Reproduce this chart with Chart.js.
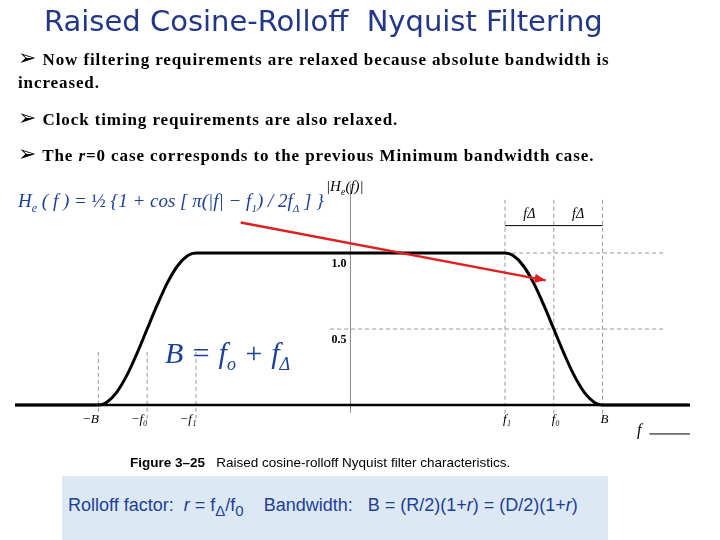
<!DOCTYPE html>
<html><head><meta charset="utf-8">
<script src="https://cdn.jsdelivr.net/npm/chart.js@4"></script>
<style>
body{margin:0;width:720px;height:540px;position:relative;background:#fff;overflow:hidden;font-family:"Liberation Serif",serif}
.t{position:absolute;white-space:nowrap}
#c{position:absolute;left:0;top:0}
.b{font-weight:bold;font-size:17px;letter-spacing:0.9px;color:#000}
.ar{font-size:22px;font-family:"DejaVu Sans";font-weight:normal}
</style></head><body>
<canvas id="c" width="720" height="540"></canvas>
<div class="t" style="left:44px;top:4px;font-family:'DejaVu Sans';font-size:29px;color:#22378a">Raised Cosine-Rolloff&nbsp; Nyquist Filtering</div>
<div class="t b" style="left:18px;top:45px"><span class="ar">➢</span> Now filtering requirements are relaxed because absolute bandwidth is</div>
<div class="t b" style="left:18px;top:73px">increased.</div>
<div class="t b" style="left:18px;top:105px"><span class="ar">➢</span> Clock timing requirements are also relaxed.</div>
<div class="t b" style="left:18px;top:141px"><span class="ar">➢</span> The <i>r</i>=0 case corresponds to the previous Minimum bandwidth case.</div>
<div class="t" style="left:18px;top:190px;font-size:19px;color:#1c3f9a;font-style:italic">H<sub style="font-size:12px">e</sub> ( f ) = <span style="font-style:normal">½</span> {1 + cos [ π(|f| − f<sub style="font-size:11px">1</sub>) / 2f<sub style="font-size:11px">Δ</sub> ] }</div>
<div class="t" style="left:326px;top:178px;font-size:15px;font-style:italic">|H<sub style="font-size:10px">e</sub>(f)|</div>
<div class="t" style="left:165px;top:336px;font-size:30px;font-style:italic;color:#1c3f9a">B = f<sub style="font-size:18px">o</sub> + f<sub style="font-size:18px">Δ</sub></div>
<div class="t" style="left:130px;top:455px;font-family:'Liberation Sans';font-size:13.5px"><b>Figure 3–25</b>&nbsp;&nbsp; Raised cosine-rolloff Nyquist filter characteristics.</div>
<div class="t" style="left:62px;top:476px;width:546px;height:64px;background:#dce8f4"></div>
<div class="t" style="left:68px;top:495px;font-family:'Liberation Sans';font-size:18px;color:#1c3f9a">Rolloff factor:&nbsp; <i>r</i> = f<sub>Δ</sub>/f<sub>0</sub> &nbsp;&nbsp; Bandwidth:&nbsp;&nbsp; B = (R/2)(1+<i>r</i>) = (D/2)(1+<i>r</i>)</div>
<script>
const freqs=[-1.65,-1.24,-1.2,-1.15,-1.1,-1.05,-1.0,-0.95,-0.9,-0.85,-0.8,-0.76,0,0.76,0.8,0.85,0.9,0.95,1.0,1.05,1.1,1.15,1.2,1.24,1.67];
const response=[0,0,0.017,0.084,0.195,0.34,0.5,0.66,0.805,0.916,0.983,1,1,1,0.983,0.916,0.805,0.66,0.5,0.34,0.195,0.084,0.017,0,0];
const markX=[-1.24,-1,-0.76,0.76,1,1.24];
const markLabels=["−B","−f₀","−f₁","f₁","f₀","B"];
const levels=[1.0,0.5];
const levelLabels=["1.0","0.5"];
const arrowFrom=[-0.54,1.2], arrowTo=[0.96,0.82];
const extras={id:'extras',beforeDatasetsDraw(ch){
 const c=ch.ctx,x=ch.scales.x,y=ch.scales.y;c.save();
 c.strokeStyle='#999';c.lineWidth=1;c.setLineDash([4,3]);
 levels.forEach(l=>{c.beginPath();c.moveTo(x.getPixelForValue(-0.1),y.getPixelForValue(l));c.lineTo(x.getPixelForValue(1.55),y.getPixelForValue(l));c.stroke();});
 markX.forEach(v=>{c.beginPath();c.moveTo(x.getPixelForValue(v),y.getPixelForValue(v>0?1.35:0.35));c.lineTo(x.getPixelForValue(v),y.getPixelForValue(-0.1));c.stroke();});
 c.setLineDash([]);c.strokeStyle='#888';
 c.beginPath();c.moveTo(x.getPixelForValue(0),y.getPixelForValue(1.45));c.lineTo(x.getPixelForValue(0),y.getPixelForValue(-0.05));c.stroke();
 c.strokeStyle='#000';c.lineWidth=2.5;
 c.beginPath();c.moveTo(x.getPixelForValue(-1.65),y.getPixelForValue(0));c.lineTo(x.getPixelForValue(1.67),y.getPixelForValue(0));c.stroke();
 c.lineWidth=1;const ya=y.getPixelForValue(1.18);
 c.beginPath();c.moveTo(x.getPixelForValue(0.76),ya);c.lineTo(x.getPixelForValue(1.24),ya);c.stroke();
 c.font='italic 14px "Liberation Serif"';c.fillStyle='#000';c.textAlign='center';
 c.fillText('fΔ',x.getPixelForValue(0.88),ya-8);c.fillText('fΔ',x.getPixelForValue(1.12),ya-8);
 c.font='bold 12px "Liberation Serif"';c.textAlign='right';
 levels.forEach((l,i)=>c.fillText(levelLabels[i],x.getPixelForValue(-0.02),y.getPixelForValue(l)+14));
 c.font='italic 13px "Liberation Serif"';c.textAlign='center';
 markX.forEach((v,i)=>c.fillText(markLabels[i],x.getPixelForValue(v)+(v<0?-8:2),y.getPixelForValue(-0.12)));
 c.font='italic 16px "Liberation Serif"';c.fillText('f',x.getPixelForValue(1.42),y.getPixelForValue(-0.2));
 c.beginPath();c.moveTo(x.getPixelForValue(1.47),y.getPixelForValue(-0.19));c.lineTo(x.getPixelForValue(1.67),y.getPixelForValue(-0.19));c.stroke();
 c.restore();},
 afterDatasetsDraw(ch){const c=ch.ctx,x=ch.scales.x,y=ch.scales.y;c.save();
 const x1=x.getPixelForValue(arrowFrom[0]),y1=y.getPixelForValue(arrowFrom[1]),x2=x.getPixelForValue(arrowTo[0]),y2=y.getPixelForValue(arrowTo[1]);
 c.strokeStyle='#e02020';c.fillStyle='#e02020';c.lineWidth=2.5;c.beginPath();c.moveTo(x1,y1);c.lineTo(x2,y2);c.stroke();
 const a=Math.atan2(y2-y1,x2-x1);c.beginPath();c.moveTo(x2,y2);c.lineTo(x2-12*Math.cos(a-0.4),y2-12*Math.sin(a-0.4));c.lineTo(x2-12*Math.cos(a+0.4),y2-12*Math.sin(a+0.4));c.fill();c.restore();}};
new Chart(document.getElementById('c'),{type:'line',
 data:{datasets:[{data:freqs.map((f,i)=>({x:f,y:response[i]})),borderColor:'#000',borderWidth:3,pointRadius:0,tension:0.35,cubicInterpolationMode:'monotone'}]},
 options:{responsive:false,animation:false,layout:{padding:{left:15,right:30,top:180,bottom:110}},
 plugins:{legend:{display:false},tooltip:{enabled:false}},
 scales:{x:{type:'linear',min:-1.65,max:1.67,display:false},y:{min:-0.164,max:1.48,display:false}}},
 plugins:[extras]});
</script></body></html>
